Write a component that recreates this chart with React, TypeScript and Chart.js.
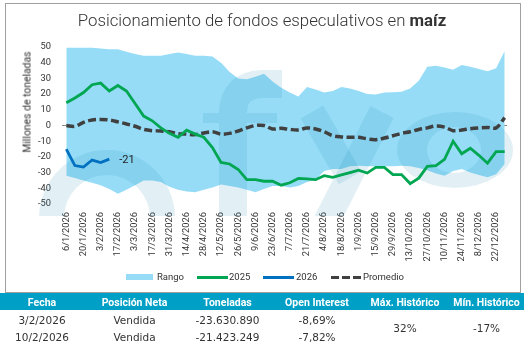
import React, { useEffect, useRef } from "react";
import { Chart, registerables } from "chart.js";

Chart.register(...registerables);

const categories = [
  "6/1/2026", "13/1/2026", "20/1/2026", "27/1/2026", "3/2/2026", "10/2/2026", "17/2/2026", "24/2/2026",
  "3/3/2026", "10/3/2026", "17/3/2026", "24/3/2026", "31/3/2026", "7/4/2026", "14/4/2026", "21/4/2026",
  "28/4/2026", "5/5/2026", "12/5/2026", "19/5/2026", "26/5/2026", "2/6/2026", "9/6/2026", "16/6/2026",
  "23/6/2026", "30/6/2026", "7/7/2026", "14/7/2026", "21/7/2026", "28/7/2026", "4/8/2026", "11/8/2026",
  "18/8/2026", "25/8/2026", "1/9/2026", "8/9/2026", "15/9/2026", "22/9/2026", "29/9/2026", "6/10/2026",
  "13/10/2026", "20/10/2026", "27/10/2026", "3/11/2026", "10/11/2026", "17/11/2026", "24/11/2026", "1/12/2026",
  "8/12/2026", "15/12/2026", "22/12/2026", "29/12/2026",
];

const rangoMax = [
  49.5, 49.5, 49.5, 49.5, 49, 48.5, 48.5, 47, 45.5, 44.5,
  44.5, 44.5, 45.5, 46.5, 45.5, 44.5, 44.5, 44, 40, 34,
  30, 29.5, 31, 33, 28, 24, 21, 18.5, 24.5, 23,
  21, 22, 24.5, 23.5, 22, 20, 19.8, 21, 21.2, 21.5,
  23.5, 28.5, 37.5, 38, 37, 35.5, 38.5, 37.5, 36, 34.5,
  36.5, 47.5,
];

const rangoMin = [
  -32, -33.5, -35, -36.5, -38, -40.5, -43.5, -41, -38, -35,
  -35, -36, -39, -41, -42, -42.5, -41, -39.5, -37.5, -38.5,
  -39.5, -41, -42.5, -40.5, -38.5, -38.5, -39.5, -38.5, -36, -34.5,
  -29, -27.7, -27.7, -26, -25.6, -26, -26, -26, -26, -25.6,
  -26, -27, -28.5, -30.5, -32, -29, -27.7, -30, -31.5, -33,
  -31, -24.5,
];

const serie2025 = [
  14.5, 17.5, 21, 26, 27, 22, 25.5, 22, 14, 6,
  3, -1.5, -5, -7.5, -3, -5.5, -7.5, -14, -23.5, -24.5,
  -28, -34.5, -34.5, -35.5, -35.5, -38, -36.5, -33.7, -34, -34.5,
  -32, -33, -31.5, -30, -28.5, -30.3, -26.7, -26.7, -31.3, -31.3,
  -37, -33.5, -26, -25.6, -21.5, -10, -18, -14.5, -19, -24,
  -16.7, -16.7,
];

const serie2026 = [-15, -25.5, -26.5, -22, -23.63, -21.42];

const promedio = [
  0, -0.5, 2, 3.5, 3.8, 3.5, 2.3, 1, -0.5, -2.5,
  -3.3, -3.5, -4, -5.3, -5.5, -5.8, -4.8, -4, -5.5, -5,
  -3.5, -1.5, 0, 0, -2.2, -1.8, -2.5, -2.8, -1.6, -2.2,
  -4, -6.5, -7.3, -7.5, -7.5, -8.5, -9, -8, -6.5, -5,
  -4, -2.5, -1.5, -0.3, -1, -3.3, -2.9, -2, -1.5, -1.2,
  -1.5, 5,
];

const lastLabel2026 = "-21";

const tableHeaders = ["Fecha", "Posición Neta", "Toneladas", "Open Interest", "Máx. Histórico", "Mín. Histórico"];
const tableRows = [
  ["3/2/2026", "Vendida", "-23.630.890", "-8,69%"],
  ["10/2/2026", "Vendida", "-21.423.249", "-7,82%"],
];
const maxHistorico = "32%";
const minHistorico = "-17%";

const C_RANGO = "#96dcf7";
const C_2025 = "#00a651";
const C_2026 = "#0070c0";
const C_PROM = "#404040";
const FONT = "Roboto";

const lastLabelPlugin = {
  id: "lastLabel",
  afterDatasetsDraw(chart: any) {
    const meta = chart.getDatasetMeta(2);
    const pts = meta.data;
    if (!pts || !pts.length) return;
    const p = pts[pts.length - 1];
    const ctx = chart.ctx;
    ctx.save();
    ctx.font = `11px ${FONT}`;
    ctx.fillStyle = "#222";
    ctx.textAlign = "left";
    ctx.textBaseline = "middle";
    ctx.fillText(lastLabel2026, p.x + 10, p.y + 1);
    ctx.restore();
  },
};

// faint background logo (decorative watermark)
const watermarkPlugin = {
  id: "watermark",
  afterDatasetDraw(chart: any, args: any) {
    if (args.index !== 0) return;
    const ctx = chart.ctx;
    ctx.save();
    ctx.beginPath();
    ctx.rect(0, 40, 524, 176);
    ctx.clip();
    ctx.fillStyle = "rgba(13,134,174,0.12)";
    ctx.strokeStyle = "rgba(13,134,174,0.12)";
    // left ring
    ctx.beginPath();
    ctx.arc(107, 218, 68, 0, Math.PI * 2);
    ctx.arc(107, 218, 43, 0, Math.PI * 2, true);
    ctx.fill("evenodd");
    // "f"
    ctx.beginPath();
    ctx.lineWidth = 28;
    ctx.lineCap = "butt";
    ctx.moveTo(233, 230);
    ctx.lineTo(233, 112);
    ctx.quadraticCurveTo(234, 85, 262, 84);
    ctx.lineTo(282, 84);
    ctx.stroke();
    ctx.beginPath();
    ctx.rect(203, 113, 16, 10);
    ctx.rect(247, 113, 30, 10);
    ctx.fill();
    // "y"
    ctx.beginPath();
    ctx.lineWidth = 26;
    ctx.moveTo(312, 112);
    ctx.lineTo(350, 178);
    ctx.stroke();
    ctx.beginPath();
    ctx.moveTo(382, 112);
    ctx.lineTo(322, 230);
    ctx.stroke();
    // "o"
    ctx.beginPath();
    ctx.ellipse(455, 150, 58, 38, 0, 0, Math.PI * 2);
    ctx.ellipse(454, 150, 27, 23, 0, 0, Math.PI * 2, true);
    ctx.fill("evenodd");
    ctx.restore();
  },
};

export default function App() {
  const ref = useRef<HTMLCanvasElement | null>(null);

  useEffect(() => {
    document.body.style.margin = "0";
    const canvas = ref.current;
    if (!canvas) return;
    const chart = new Chart(canvas, {
      type: "line",
      data: {
        labels: categories,
        datasets: [
          {
            label: "Rango",
            data: rangoMax,
            borderWidth: 0,
            pointRadius: 0,
            backgroundColor: C_RANGO,
            borderColor: C_RANGO,
            fill: "+1",
            order: 10,
          },
          {
            label: "RangoMin",
            data: rangoMin,
            borderWidth: 0,
            pointRadius: 0,
            borderColor: C_RANGO,
            fill: false,
            order: 10,
          },
          {
            label: "2026",
            data: serie2026,
            borderColor: C_2026,
            borderWidth: 2.8,
            pointRadius: 0,
            fill: false,
            order: 1,
          },
          {
            label: "2025",
            data: serie2025,
            borderColor: C_2025,
            borderWidth: 2.8,
            pointRadius: 0,
            fill: false,
            order: 2,
          },
          {
            label: "Promedio",
            data: promedio,
            borderColor: C_PROM,
            borderWidth: 3.5,
            borderDash: [8, 3.5],
            pointRadius: 0,
            tension: 0.35,
            fill: false,
            order: 3,
          },
        ],
      },
      options: {
        animation: false,
        responsive: false,
        maintainAspectRatio: false,
        layout: { padding: { left: 0, right: 15, top: 47, bottom: 26 } },
        plugins: {
          legend: { display: false },
          tooltip: { enabled: false },
          title: { display: false },
        },
        scales: {
          x: {
            type: "category",
            offset: true,
            grid: { display: false, drawTicks: false },
            border: { display: false },
            ticks: {
              autoSkip: false,
              maxRotation: 90,
              minRotation: 90,
              padding: 8,
              color: "#333",
              font: { family: FONT, size: 9.3 },
              callback: function (this: any, v: any, i: number) {
                return i % 2 === 0 ? this.getLabelForValue(v) : "";
              },
            },
            afterFit: (s: any) => {
              s.height = 60;
            },
          },
          y: {
            min: -50,
            max: 50,
            ticks: {
              stepSize: 10,
              padding: 11,
              color: "#333",
              font: { family: FONT, size: 9.3 },
            },
            grid: {
              drawTicks: false,
              lineWidth: 1,
              color: (c: any) => (c.tick && c.tick.value === 0 ? "#8a8a8a" : "rgba(0,0,0,0)"),
            },
            border: { display: false, dash: [4, 3] },
            afterFit: (s: any) => {
              s.width = 62;
            },
          },
        },
      },
      plugins: [watermarkPlugin, lastLabelPlugin],
    } as any);
    return () => chart.destroy();
  }, []);

  const headerCenters = [42, 134.5, 227.5, 317, 405, 486.5];
  const cellStyle = (x: number, y: number): React.CSSProperties => ({
    position: "absolute",
    left: x,
    top: y,
    transform: "translate(-50%, -50%)",
    whiteSpace: "nowrap",
  });

  return (
    <div style={{ position: "relative", width: 524, height: 349, overflow: "hidden", background: "#fff" }}>
      <div
        style={{
          position: "absolute",
          left: 5,
          top: 3,
          width: 514,
          height: 288,
          border: "1px solid #a0a0a0",
        }}
      />
      <canvas ref={ref} width={524} height={290} style={{ position: "absolute", left: 0, top: 0, width: 524, height: 290 }} />
      <div
        style={{
          position: "absolute",
          left: 262,
          top: 20,
          transform: "translate(-50%, -50%)",
          whiteSpace: "nowrap",
          fontFamily: FONT,
          fontWeight: 300,
          fontSize: 16.8,
          color: "#333",
        }}
      >
        Posicionamiento de fondos especulativos en <b style={{ fontWeight: 700 }}>maíz</b>
      </div>
      <div
        style={{
          position: "absolute",
          left: 27,
          top: 102,
          transform: "translate(-50%, -50%) rotate(-90deg)",
          whiteSpace: "nowrap",
          fontFamily: FONT,
          fontSize: 10.4,
          color: "#333",
        }}
      >
        Millones de toneladas
      </div>
      {/* Legend */}
      <div style={{ position: "absolute", fontFamily: FONT, fontSize: 9.5, color: "#333" }}>
        <div style={{ position: "absolute", left: 126, top: 274, width: 27, height: 6, background: C_RANGO }} />
        <div style={{ position: "absolute", left: 157, top: 271, whiteSpace: "nowrap", lineHeight: "12px" }}>Rango</div>
        <div style={{ position: "absolute", left: 197, top: 275.5, width: 31, height: 3, background: C_2025 }} />
        <div style={{ position: "absolute", left: 229, top: 271, whiteSpace: "nowrap", lineHeight: "12px" }}>2025</div>
        <div style={{ position: "absolute", left: 263, top: 275.5, width: 31, height: 3, background: C_2026 }} />
        <div style={{ position: "absolute", left: 296, top: 271, whiteSpace: "nowrap", lineHeight: "12px" }}>2026</div>
        <div
          style={{
            position: "absolute",
            left: 331,
            top: 275.5,
            width: 30,
            height: 3,
            background: `repeating-linear-gradient(90deg, ${C_PROM} 0 8px, transparent 8px 11px)`,
          }}
        />
        <div style={{ position: "absolute", left: 363, top: 271, whiteSpace: "nowrap", lineHeight: "12px" }}>Promedio</div>
      </div>
      {/* Table */}
      <div style={{ position: "absolute", left: 0, top: 293, width: 524, height: 17, background: "#00a0c6" }} />
      {tableHeaders.map((h, i) => (
        <div
          key={h}
          style={{
            ...cellStyle(headerCenters[i], 302),
            fontFamily: FONT,
            fontWeight: 700,
            fontSize: 10.5,
            color: "#fff",
          }}
        >
          {h}
        </div>
      ))}
      {tableRows.map((row, r) =>
        row.map((cell, c) => (
          <div
            key={`${r}-${c}`}
            style={{
              ...cellStyle(headerCenters[c], 320 + r * 17),
              fontFamily: "DejaVu Sans",
              fontSize: 10.5,
              color: "#333",
            }}
          >
            {cell}
          </div>
        ))
      )}
      <div style={{ ...cellStyle(headerCenters[4], 328), fontFamily: "DejaVu Sans", fontSize: 10.5, color: "#333" }}>
        {maxHistorico}
      </div>
      <div style={{ ...cellStyle(headerCenters[5], 328), fontFamily: "DejaVu Sans", fontSize: 10.5, color: "#333" }}>
        {minHistorico}
      </div>
    </div>
  );
}
